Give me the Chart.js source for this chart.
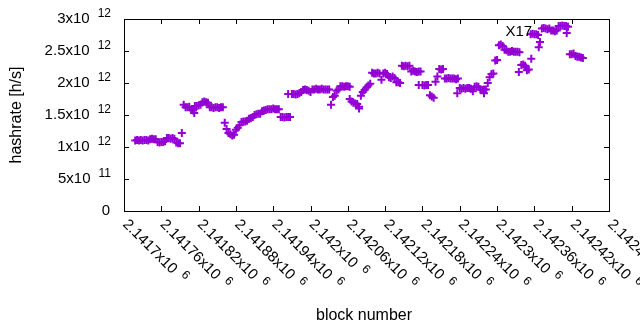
<!DOCTYPE html>
<html>
<head>
<meta charset="utf-8">
<script src="https://cdn.jsdelivr.net/npm/chart.js@4/dist/chart.umd.min.js"></script>
<style>
  html, body { margin: 0; padding: 0; background: #fff; }
</style>
</head>
<body>
<canvas id="hashChart" width="640" height="330"></canvas>
<script>
"use strict";

// sampled every 3 blocks starting at firstBlock
const firstBlock = 2141718;
const blockStep = 3;
// hashrate in units of 10^12 h/s
const hashrateT = [
  1.10, 1.11, 1.10, 1.11, 1.10, 1.11, 1.11, 1.10,
  1.12, 1.13, 1.12, 1.12,
  1.08, 1.07, 1.08, 1.08, 1.09,
  1.14, 1.14, 1.13, 1.14, 1.13,
  1.07, 1.06, 1.06,
  1.22,
  1.66,
  1.62, 1.62, 1.63,
  1.58, 1.57,
  1.64, 1.64, 1.65, 1.66,
  1.70, 1.71, 1.70, 1.69,
  1.62, 1.62, 1.61, 1.62, 1.62, 1.61, 1.62, 1.62,
  1.38,
  1.28,
  1.22, 1.20, 1.18, 1.19,
  1.27, 1.30, 1.34,
  1.39, 1.40, 1.40, 1.41,
  1.44, 1.45, 1.47,
  1.50, 1.51, 1.52, 1.52,
  1.56, 1.57,
  1.58, 1.59, 1.59, 1.59, 1.60, 1.59, 1.59, 1.59,
  1.47, 1.47, 1.46, 1.47, 1.47, 1.47,
  1.83, 1.83, 1.82, 1.83, 1.84, 1.86,
  1.89, 1.90, 1.89, 1.88,
  1.86,
  1.90, 1.90, 1.91, 1.90, 1.90, 1.91, 1.90, 1.90, 1.90, 1.90,
  1.66,
  1.78, 1.80,
  1.88, 1.90,
  1.95, 1.95, 1.94, 1.95, 1.95, 1.94,
  1.71, 1.69, 1.68, 1.67, 1.63,
  1.80, 1.86, 1.89,
  1.93, 1.96, 1.99,
  2.16, 2.15, 2.15, 2.16, 2.15,
  2.05,
  2.15, 2.16, 2.14,
  2.09, 2.08, 2.10, 2.08,
  2.01, 2.01, 2.00,
  2.27, 2.26, 2.27, 2.26, 2.27,
  2.18, 2.19, 2.18, 2.17, 2.18, 2.18,
  1.97, 1.96, 1.97, 1.97,
  1.81, 1.79, 1.77,
  2.02, 2.10,
  2.22, 2.21, 2.22,
  2.07, 2.07, 2.08, 2.07, 2.07, 2.07, 2.06, 2.07,
  1.92, 1.91, 1.92, 1.91, 1.92, 1.92, 1.91,
  1.87, 1.94, 1.95, 1.94,
  1.90, 1.89, 1.90, 1.90,
  2.00, 2.09,
  2.14, 2.15,
  2.35, 2.36,
  2.59, 2.60, 2.58,
  2.52, 2.51,
  2.49, 2.49, 2.50, 2.49, 2.49, 2.49, 2.48,
  2.28, 2.29, 2.27,
  2.20, 2.21,
  2.76, 2.77, 2.76, 2.76, 2.75,
  2.64,
  2.85, 2.86, 2.85, 2.84, 2.85,
  2.82, 2.82, 2.81, 2.82,
  2.89, 2.89, 2.90, 2.89, 2.89, 2.88,
  2.45, 2.45, 2.46,
  2.42, 2.41, 2.41, 2.40, 2.39
];
// stray points off the sampled grid
const extraBlocks = [2141813, 2141964, 2142063, 2142078, 2142174, 2142236, 2142279, 2142335, 2142355, 2142367, 2142412];
const extraHashrateT = [1.53, 1.83, 1.75, 1.60, 1.97, 1.84, 1.84, 2.17, 2.38, 2.56, 2.78];

const xTicks = [2141700, 2141760, 2141820, 2141880, 2141940, 2142000, 2142060, 2142120, 2142180, 2142240, 2142300, 2142360, 2142420, 2142480];
const xTickLabels = ['2.1417', '2.14176', '2.14182', '2.14188', '2.14194', '2.142', '2.14206', '2.14212', '2.14218', '2.14224', '2.1423', '2.14236', '2.14242', '2.14248'];
const yTicks = [0, 5e11, 1e12, 1.5e12, 2e12, 2.5e12, 3e12];
const yTickLabels = ['0', '5', '1', '1.5', '2', '2.5', '3'];
const yTickExp = ['', '11', '12', '12', '12', '12', '12'];

const markLabel = { text: 'X17', block: 2142335, value: 2.80e12 };

const points = [];
for (let i = 0; i < hashrateT.length; i++) {
  points.push({ x: firstBlock + i * blockStep, y: hashrateT[i] * 1e12 });
}
for (let i = 0; i < extraBlocks.length; i++) {
  points.push({ x: extraBlocks[i], y: extraHashrateT[i] * 1e12 });
}

const FONT = '"Liberation Sans", Arial, sans-serif';

const gnuplotFrame = {
  id: 'gnuplotFrame',
  afterDraw(chart) {
    const ctx = chart.ctx;
    const a = chart.chartArea;
    const xs = chart.scales.x, ys = chart.scales.y;
    const tic = 5;
    ctx.save();
    ctx.strokeStyle = '#000';
    ctx.lineWidth = 1;
    ctx.strokeRect(Math.round(a.left) + 0.5, Math.round(a.top) + 0.5,
      Math.round(a.right - a.left), Math.round(a.bottom - a.top));

    ctx.beginPath();
    xTicks.forEach(v => {
      const px = Math.round(xs.getPixelForValue(v)) + 0.5;
      ctx.moveTo(px, a.bottom); ctx.lineTo(px, a.bottom - tic);
      ctx.moveTo(px, a.top); ctx.lineTo(px, a.top + tic);
    });
    yTicks.forEach(v => {
      const py = Math.round(ys.getPixelForValue(v)) + 0.5;
      ctx.moveTo(a.left, py); ctx.lineTo(a.left + tic, py);
      ctx.moveTo(a.right, py); ctx.lineTo(a.right - tic, py);
    });
    ctx.stroke();

    ctx.fillStyle = '#000';
    // y tick labels
    const yRight = a.left - 13;
    yTicks.forEach((v, i) => {
      const py = ys.getPixelForValue(v);
      ctx.textBaseline = 'middle';
      ctx.textAlign = 'right';
      if (yTickExp[i]) {
        ctx.font = '12px ' + FONT;
        const sw = ctx.measureText(yTickExp[i]).width;
        ctx.fillText(yTickExp[i], yRight, py - 5);
        ctx.font = '15px ' + FONT;
        ctx.fillText(yTickLabels[i] + 'x10', yRight - sw - 8, py);
      } else {
        ctx.font = '15px ' + FONT;
        ctx.fillText(yTickLabels[i], yRight - 1, py);
      }
    });

    // x tick labels, rotated down-right
    xTicks.forEach((v, i) => {
      const px = xs.getPixelForValue(v);
      ctx.save();
      ctx.translate(px + 1, a.bottom + 11);
      ctx.rotate(Math.PI / 4);
      ctx.textAlign = 'left';
      ctx.textBaseline = 'middle';
      ctx.font = '15px ' + FONT;
      const main = xTickLabels[i] + 'x10';
      ctx.fillText(main, 0, 0);
      const w = ctx.measureText(main).width;
      ctx.font = '12px ' + FONT;
      ctx.fillText('6', w + 7, -5);
      ctx.restore();
    });

    // axis titles
    ctx.font = '16px ' + FONT;
    ctx.textAlign = 'center';
    ctx.textBaseline = 'middle';
    ctx.fillText('block number', 364, 316);
    ctx.save();
    ctx.translate(17, (a.top + a.bottom) / 2);
    ctx.rotate(-Math.PI / 2);
    ctx.fillText('hashrate [h/s]', 0, 0);
    ctx.restore();

    // point label
    ctx.font = '15px ' + FONT;
    ctx.fillText(markLabel.text, xs.getPixelForValue(markLabel.block), ys.getPixelForValue(markLabel.value));
    ctx.restore();
  }
};

new Chart(document.getElementById('hashChart').getContext('2d'), {
  type: 'scatter',
  data: {
    datasets: [{
      data: points,
      pointStyle: 'cross',
      pointRadius: 4,
      pointHoverRadius: 4,
      borderWidth: 2,
      borderColor: '#9400d3',
      backgroundColor: '#9400d3'
    }]
  },
  options: {
    responsive: false,
    animation: false,
    layout: { padding: { left: 124, right: 31, top: 19, bottom: 119 } },
    plugins: { legend: { display: false }, tooltip: { enabled: false } },
    scales: {
      x: { type: 'linear', display: false, min: 2141700, max: 2142480 },
      y: { type: 'linear', display: false, min: 0, max: 3e12 }
    }
  },
  plugins: [gnuplotFrame]
});
</script>
</body>
</html>
